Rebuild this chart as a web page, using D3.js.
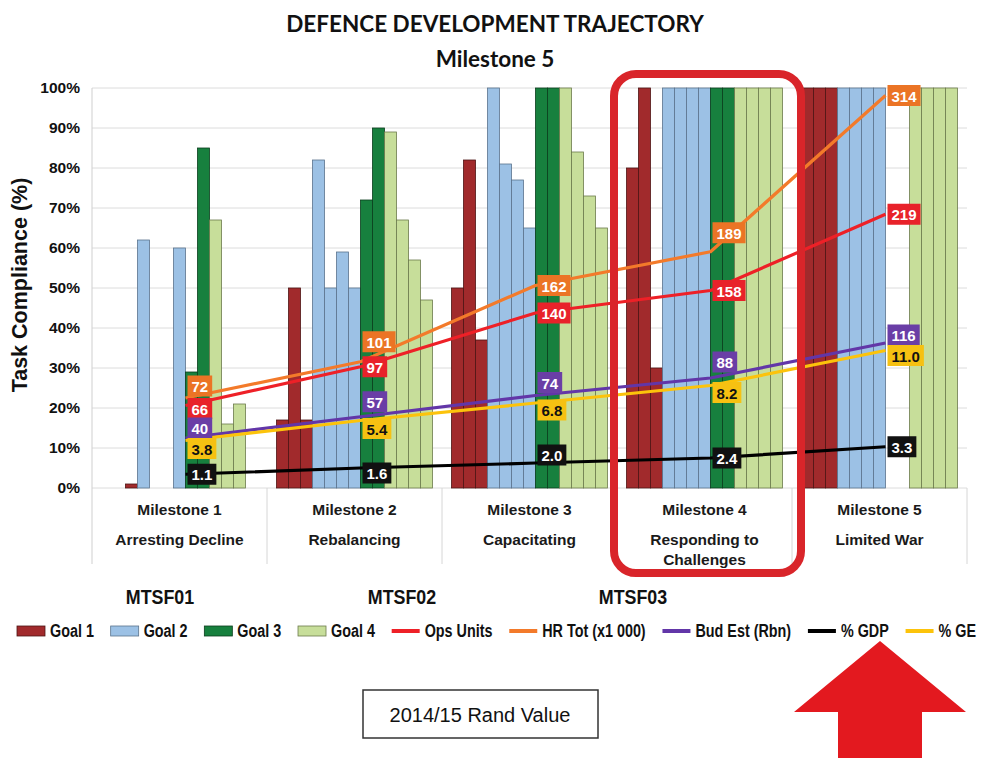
<!DOCTYPE html>
<html>
<head>
<meta charset="utf-8">
<script src="https://cdn.jsdelivr.net/npm/d3@7"></script>
<style>
  body { margin: 0; background: #fff; }
  svg { display: block; }
</style>
</head>
<body>
<svg id="chart" width="992" height="758"></svg>
<script>
// ---- data ----
const milestones = ["Milestone 1", "Milestone 2", "Milestone 3", "Milestone 4", "Milestone 5"];
const phases = [["Arresting Decline"], ["Rebalancing"], ["Capacitating"], ["Responding to", "Challenges"], ["Limited War"]];
const yTicks = [0, 10, 20, 30, 40, 50, 60, 70, 80, 90, 100];

// task compliance (%) per milestone, one value per bar
const goal1 = [[0, 0, 1], [17, 50, 17], [50, 82, 37], [80, 100, 30], [100, 100, 100]];
const goal2 = [[62, 0, 0, 60], [82, 50, 59, 50], [100, 81, 77, 65], [100, 100, 100, 100], [100, 100, 100, 100]];
const goal3 = [[29, 85], [72, 90], [100, 100], [100, 100], [0, 0]];
const goal4 = [[67, 16, 21, 0], [89, 67, 57, 47], [100, 84, 73, 65], [100, 100, 100, 100], [100, 100, 100, 100]];

// resource trajectories per milestone
const opsUnits = [66, 97, 140, 158, 219];
const hrTot = [72, 101, 162, 189, 314];
const budEst = [40, 57, 74, 88, 116];
const pctGDP = [1.1, 1.6, 2.0, 2.4, 3.3];
const pctGE = [3.8, 5.4, 6.8, 8.2, 11.0];

const mtsfLabels = ["MTSF01", "MTSF02", "MTSF03"];

// ---- layout ----
const plot = { left: 92, right: 967, top: 88, bottom: 488 };
const FONT = "'Liberation Sans', Arial, sans-serif";
const TITLE_FONT = "Lato, 'Open Sans', sans-serif";

const svg = d3.select("#chart");

// squeeze a text element horizontally to a condensed width; returns the new width
function condense(node, ratio) {
  const w = node.getComputedTextLength() * ratio;
  d3.select(node).attr("textLength", w).attr("lengthAdjust", "spacingAndGlyphs");
  return w;
}

const goals = [
  { name: "Goal 1", data: goal1, fill: "#a12a2c", stroke: "#4e1414" },
  { name: "Goal 2", data: goal2, fill: "#9cc1e5", stroke: "#5b738d" },
  { name: "Goal 3", data: goal3, fill: "#17803e", stroke: "#0b3d1d" },
  { name: "Goal 4", data: goal4, fill: "#c7de9a", stroke: "#6c7a4c" }
];

const series = [
  { name: "Ops Units", data: opsUnits, unit: 1, color: "#ee2027", box: "#e8222a", text: "#fff", fmt: d3.format("d"), dy: [3, 0, 0, 0, 0] },
  { name: "HR Tot (x1 000)", data: hrTot, unit: 1, color: "#f37a2a", box: "#eb7425", text: "#fff", fmt: d3.format("d"), dy: [-12, -20, 0, -19, 0] },
  { name: "Bud Est (Rbn)", data: budEst, unit: 1, color: "#6236a8", box: "#6a3ea6", text: "#fff", fmt: d3.format("d"), dy: [-10, -15, -13, -16, -8] },
  { name: "% GDP", data: pctGDP, unit: 10, color: "#000", box: "#111", text: "#fff", fmt: d3.format(".1f"), dy: [0, 5, -8, 0, 0] },
  { name: "% GE", data: pctGE, unit: 10, color: "#fcc30b", box: "#f6c112", text: "#111", fmt: d3.format(".1f"), dy: [8, 8, 7, 7, 5] }
];

// ---- scales ----
const xGroup = d3.scaleBand().domain(milestones).range([plot.left, plot.right]);
const nSlots = goals.reduce((s, g) => s + g.data[0].length, 0);
const xSlot = d3.scaleBand().domain(d3.range(nSlots)).range([9.5, xGroup.bandwidth() - 9.5]);
const y = d3.scaleLinear().domain([0, 100]).range([plot.bottom, plot.top]);
// secondary axis for the trajectories (percent series plotted in tenths)
const y2 = d3.scaleLinear().domain([0, 320]).range([plot.bottom, plot.top]);

// ---- grid ----
svg.append("g")
  .selectAll("line")
  .data(yTicks)
  .join("line")
  .attr("x1", plot.left).attr("x2", plot.right)
  .attr("y1", d => y(d)).attr("y2", d => y(d))
  .attr("stroke", "#dcdcdc").attr("stroke-width", 1);

// left axis line and category separators
svg.append("line")
  .attr("x1", plot.left).attr("x2", plot.left)
  .attr("y1", plot.top).attr("y2", 564)
  .attr("stroke", "#cfcfcf");
svg.append("g")
  .selectAll("line")
  .data(milestones)
  .join("line")
  .attr("x1", d => xGroup(d) + xGroup.bandwidth())
  .attr("x2", d => xGroup(d) + xGroup.bandwidth())
  .attr("y1", plot.bottom).attr("y2", 564)
  .attr("stroke", "#d6d6d6");

// ---- y axis ----
const yAxis = d3.axisLeft(y).tickValues(yTicks).tickFormat(d => d + "%").tickSize(0).tickPadding(12);
const yg = svg.append("g").attr("transform", `translate(${plot.left},0)`).call(yAxis);
yg.select(".domain").remove();
yg.selectAll("text")
  .attr("font-family", FONT).attr("font-size", 15.5).attr("font-weight", "bold").attr("fill", "#111");

svg.append("text")
  .attr("transform", `translate(27,${(plot.top + plot.bottom) / 2 - 3}) rotate(-90)`)
  .attr("text-anchor", "middle")
  .attr("font-family", FONT).attr("font-size", 21.5).attr("font-weight", "bold").attr("fill", "#111")
  .text("Task Compliance (%)");

// ---- bars ----
const bars = [];
milestones.forEach((m, gi) => {
  let slot = 0;
  goals.forEach(goal => {
    goal.data[gi].forEach(v => {
      bars.push({ m, slot, value: v, goal });
      slot++;
    });
  });
});

svg.append("g")
  .selectAll("rect")
  .data(bars.filter(d => d.value > 0))
  .join("rect")
  .attr("x", d => xGroup(d.m) + xSlot(d.slot))
  .attr("y", d => y(d.value))
  .attr("width", xSlot.bandwidth())
  .attr("height", d => y(0) - y(d.value))
  .attr("fill", d => d.goal.fill)
  .attr("stroke", d => d.goal.stroke)
  .attr("stroke-width", 0.8);

// ---- category labels ----
const cat = svg.append("g")
  .attr("font-family", FONT).attr("font-size", 15.5).attr("font-weight", "bold")
  .attr("fill", "#1a1a1a").attr("text-anchor", "middle");
milestones.forEach((m, i) => {
  const cx = xGroup(m) + xGroup.bandwidth() / 2;
  cat.append("text").attr("x", cx).attr("y", 515).text(m);
  phases[i].forEach((line, j) => {
    cat.append("text").attr("x", cx).attr("y", 545 + j * 20).text(line);
  });
});

// ---- trajectory lines ----
const lineX = m => xGroup(m) + xSlot(7);
series.forEach(s => {
  const pts = s.data.map((v, i) => ({ m: milestones[i], v: v * s.unit }));
  svg.append("path")
    .datum(pts)
    .attr("fill", "none")
    .attr("stroke", s.color)
    .attr("stroke-width", 3.2)
    .attr("stroke-linejoin", "round")
    .attr("d", d3.line().x(d => lineX(d.m)).y(d => y2(d.v)));
});

// ---- value labels ----
series.forEach(s => {
  s.data.forEach((v, i) => {
    const px = lineX(milestones[i]) + 2;
    const py = y2(v * s.unit) + s.dy[i];
    const g = svg.append("g");
    const t = g.append("text")
      .attr("font-family", FONT).attr("font-size", 15).attr("font-weight", "bold")
      .attr("fill", s.text)
      .attr("dominant-baseline", "central")
      .text(s.fmt(v));
    const w = t.node().getComputedTextLength() + 8;
    g.insert("rect", "text")
      .attr("x", px).attr("y", py - 10.5)
      .attr("width", w).attr("height", 21)
      .attr("fill", s.box);
    t.attr("x", px + w / 2).attr("y", py + 0.5).attr("text-anchor", "middle");
  });
});

// ---- highlighted milestone ----
svg.append("rect")
  .attr("x", 614).attr("y", 74)
  .attr("width", 187).attr("height", 499)
  .attr("rx", 22).attr("ry", 22)
  .attr("fill", "none")
  .attr("stroke", "#d9252a")
  .attr("stroke-width", 8);

// ---- titles ----
svg.append("text")
  .attr("x", 495).attr("y", 32)
  .attr("text-anchor", "middle")
  .attr("font-family", TITLE_FONT).attr("font-size", 22.5).attr("font-weight", "bold").attr("fill", "#111")
  .text("DEFENCE DEVELOPMENT TRAJECTORY");
svg.append("text")
  .attr("x", 495).attr("y", 67)
  .attr("text-anchor", "middle")
  .attr("font-family", TITLE_FONT).attr("font-size", 22.5).attr("font-weight", "bold").attr("fill", "#111")
  .text("Milestone 5");

// ---- MTSF period labels ----
const mtsfX = [160, 402, 633];
svg.append("g")
  .selectAll("text")
  .data(mtsfLabels)
  .join("text")
  .attr("x", (d, i) => mtsfX[i]).attr("y", 604)
  .attr("text-anchor", "middle")
  .attr("font-family", FONT).attr("font-size", 21).attr("font-weight", "bold").attr("fill", "#111")
  .text(d => d)
  .each(function () { condense(this, 0.85); });

// ---- legend ----
const legendItems = goals.map(g => ({ name: g.name, type: "rect", fill: g.fill, stroke: g.stroke }))
  .concat(series.map(s => ({ name: s.name, type: "line", fill: s.color })));
const lg = svg.append("g");
let lx = 17;
const ly = 631;
legendItems.forEach(item => {
  if (item.type === "rect") {
    lg.append("rect").attr("x", lx).attr("y", ly - 5).attr("width", 28).attr("height", 10)
      .attr("fill", item.fill).attr("stroke", item.stroke).attr("stroke-width", 0.8);
  } else {
    lg.append("line").attr("x1", lx).attr("x2", lx + 28).attr("y1", ly).attr("y2", ly)
      .attr("stroke", item.fill).attr("stroke-width", 4);
  }
  const t = lg.append("text")
    .attr("x", lx + 33).attr("y", ly).attr("dominant-baseline", "central")
    .attr("font-family", FONT).attr("font-size", 17.5).attr("font-weight", "bold").attr("fill", "#111")
    .text(item.name);
  const w = condense(t.node(), 0.82);
  lx += 33 + w + 16.8;
});

// ---- footnote box ----
svg.append("rect")
  .attr("x", 363).attr("y", 690).attr("width", 235).attr("height", 48)
  .attr("fill", "#fff").attr("stroke", "#333").attr("stroke-width", 1.5);
svg.append("text")
  .attr("x", 480).attr("y", 715).attr("text-anchor", "middle").attr("dominant-baseline", "central")
  .attr("font-family", FONT).attr("font-size", 20).attr("fill", "#111")
  .text("2014/15 Rand Value");

// ---- arrow ----
svg.append("polygon")
  .attr("points", [[880, 641], [966, 712], [922, 712], [922, 758], [838, 758], [838, 712], [794, 712]].map(p => p.join(",")).join(" "))
  .attr("fill", "#e3191f");
</script>
</body>
</html>
